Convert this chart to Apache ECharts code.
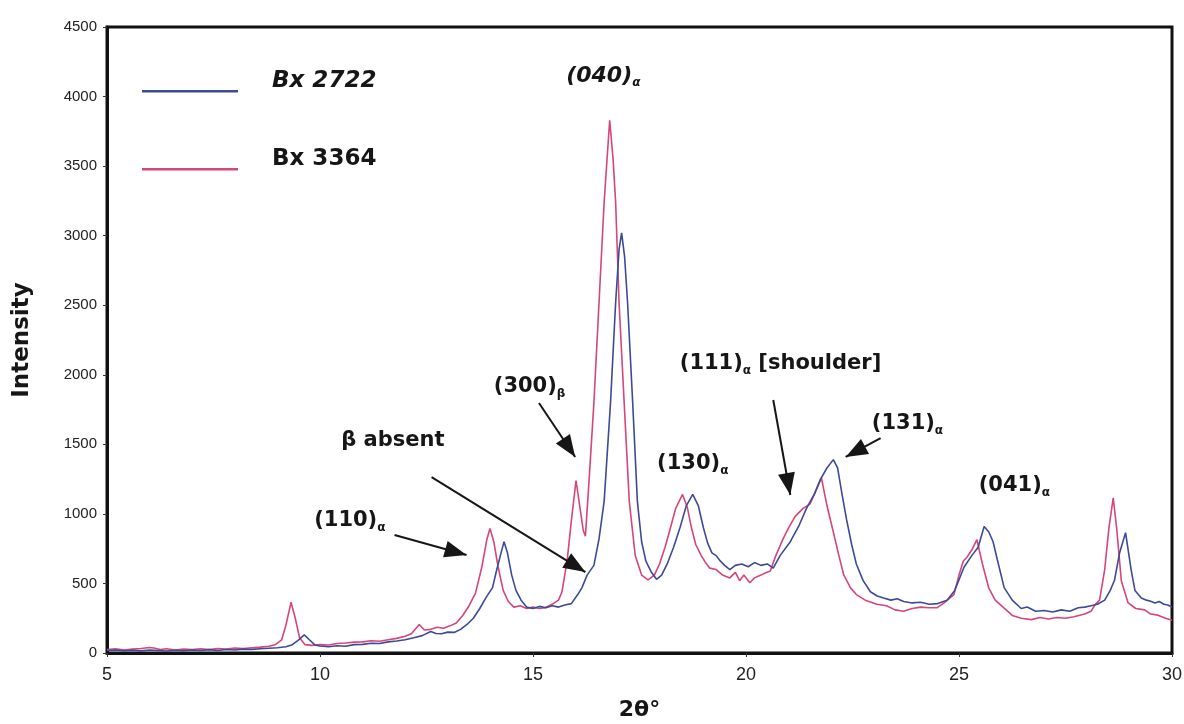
<!DOCTYPE html>
<html>
<head>
<meta charset="utf-8">
<script src="https://cdn.jsdelivr.net/npm/echarts@6/dist/echarts.min.js"></script>
<style>
  html, body { margin: 0; padding: 0; background: #fff; }
  #chart { width: 1184px; height: 724px; }
</style>
</head>
<body>
<div id="chart"></div>
<script>
// X-ray diffraction patterns of two polypropylene samples, intensity vs 2θ.
const seriesNames = ['Bx 2722', 'Bx 3364'];

// [2θ (degrees), intensity]
const bx2722 = [
  [5.0, 18], [5.2, 22], [5.4, 16], [5.6, 20], [5.8, 15], [6.0, 22], [6.2, 18], [6.4, 14], [6.6, 20],
  [6.8, 16], [7.0, 22], [7.2, 18], [7.4, 24], [7.6, 18], [7.8, 25], [8.0, 22], [8.2, 28], [8.4, 26],
  [8.6, 30], [8.8, 34], [9.0, 38], [9.2, 45], [9.35, 60], [9.5, 95], [9.63, 130], [9.75, 95],
  [9.88, 58], [10.0, 50], [10.2, 45], [10.4, 52], [10.6, 48], [10.8, 60], [11.0, 62], [11.2, 70],
  [11.4, 68], [11.6, 80], [11.8, 86], [12.0, 95], [12.2, 110], [12.4, 125], [12.6, 155], [12.72, 140],
  [12.85, 138], [13.0, 150], [13.15, 148], [13.3, 170], [13.45, 205], [13.6, 250], [13.75, 320],
  [13.9, 400], [14.05, 470], [14.15, 600], [14.25, 720], [14.32, 800], [14.4, 720], [14.5, 560],
  [14.6, 450], [14.72, 380], [14.85, 330], [15.0, 320], [15.15, 335], [15.3, 325], [15.45, 340],
  [15.6, 330], [15.75, 345], [15.9, 355], [16.05, 420], [16.15, 470], [16.27, 560], [16.43, 630],
  [16.55, 820], [16.67, 1090], [16.82, 1800], [16.94, 2520], [17.02, 2900], [17.08, 3020],
  [17.15, 2850], [17.22, 2520], [17.34, 1800], [17.45, 1090], [17.55, 800], [17.65, 660],
  [17.78, 580], [17.9, 530], [18.02, 560], [18.15, 640], [18.3, 760], [18.45, 900], [18.6, 1060],
  [18.75, 1140], [18.88, 1060], [19.0, 900], [19.1, 790], [19.2, 720], [19.3, 700], [19.4, 660],
  [19.5, 630], [19.62, 600], [19.75, 630], [19.9, 640], [20.05, 620], [20.2, 650], [20.35, 630],
  [20.5, 640], [20.64, 610], [20.8, 700], [21.04, 800], [21.25, 920], [21.42, 1040], [21.6, 1140],
  [21.75, 1250], [21.9, 1330], [22.05, 1390], [22.15, 1330], [22.25, 1150], [22.36, 960],
  [22.48, 780], [22.59, 640], [22.75, 520], [22.92, 440], [23.08, 410], [23.23, 395], [23.4, 380],
  [23.55, 390], [23.7, 370], [23.9, 360], [24.1, 365], [24.3, 350], [24.5, 355], [24.72, 380],
  [24.9, 450], [25.12, 618], [25.3, 700], [25.45, 760], [25.59, 910], [25.7, 870], [25.8, 800],
  [25.9, 670], [26.06, 470], [26.25, 380], [26.46, 320], [26.6, 330], [26.8, 300], [27.0, 305],
  [27.2, 295], [27.4, 310], [27.6, 300], [27.8, 325], [27.95, 330], [28.1, 340], [28.25, 350],
  [28.42, 380], [28.55, 450], [28.65, 523], [28.77, 720], [28.91, 865], [29.04, 600], [29.13, 450],
  [29.28, 395], [29.4, 380], [29.5, 372], [29.6, 360], [29.7, 370], [29.81, 350], [29.9, 345],
  [30.0, 330]
];

const bx3364 = [
  [5.0, 25], [5.2, 30], [5.4, 22], [5.6, 28], [5.8, 32], [6.0, 40], [6.1, 36], [6.25, 25], [6.4, 30],
  [6.6, 22], [6.8, 28], [7.0, 25], [7.2, 30], [7.4, 24], [7.6, 32], [7.8, 28], [8.0, 35], [8.2, 32],
  [8.4, 38], [8.6, 42], [8.8, 48], [8.95, 60], [9.1, 95], [9.2, 200], [9.32, 365], [9.42, 250],
  [9.52, 110], [9.65, 60], [9.8, 55], [10.0, 60], [10.2, 58], [10.4, 68], [10.6, 72], [10.8, 78],
  [11.0, 80], [11.2, 88], [11.4, 85], [11.6, 95], [11.8, 105], [12.0, 120], [12.15, 140],
  [12.33, 205], [12.45, 165], [12.6, 170], [12.75, 185], [12.9, 178], [13.05, 195], [13.2, 215],
  [13.35, 270], [13.5, 340], [13.65, 430], [13.8, 620], [13.92, 820], [13.99, 895], [14.08, 800],
  [14.18, 620], [14.3, 450], [14.42, 370], [14.55, 330], [14.7, 340], [14.85, 320], [15.0, 330],
  [15.15, 320], [15.28, 325], [15.45, 350], [15.6, 380], [15.68, 440], [15.8, 660], [15.9, 950],
  [16.01, 1240], [16.1, 1050], [16.18, 880], [16.23, 840], [16.31, 1210], [16.43, 1800],
  [16.55, 2520], [16.67, 3240], [16.8, 3830], [16.88, 3550], [16.94, 3240], [17.02, 2520],
  [17.14, 1800], [17.26, 1090], [17.4, 700], [17.55, 560], [17.7, 525], [17.85, 560], [17.97, 640],
  [18.1, 760], [18.2, 870], [18.35, 1040], [18.51, 1140], [18.62, 1050], [18.72, 900], [18.82, 780],
  [18.95, 700], [19.05, 650], [19.15, 610], [19.3, 600], [19.45, 560], [19.62, 540], [19.75, 580],
  [19.85, 520], [19.95, 560], [20.09, 505], [20.2, 540], [20.35, 560], [20.45, 575], [20.57, 590],
  [20.7, 700], [20.87, 820], [21.0, 900], [21.15, 980], [21.34, 1040], [21.5, 1070], [21.62, 1150],
  [21.77, 1260], [21.9, 1060], [22.05, 870], [22.18, 700], [22.29, 566], [22.45, 470], [22.59, 420],
  [22.8, 380], [23.07, 350], [23.3, 340], [23.5, 310], [23.7, 300], [23.9, 320], [24.1, 330],
  [24.3, 325], [24.48, 325], [24.65, 360], [24.88, 420], [25.0, 560], [25.1, 660], [25.19, 690],
  [25.3, 740], [25.42, 815], [25.55, 640], [25.7, 466], [25.85, 380], [26.06, 322], [26.25, 270],
  [26.46, 250], [26.7, 240], [26.9, 255], [27.1, 245], [27.3, 255], [27.5, 250], [27.7, 260],
  [27.95, 280], [28.1, 300], [28.2, 350], [28.3, 380], [28.42, 600], [28.52, 900], [28.62, 1115],
  [28.7, 900], [28.81, 520], [28.97, 360], [29.15, 320], [29.36, 310], [29.5, 280], [29.67, 272],
  [29.85, 250], [30.0, 236]
];

// Axis ranges and ticks
const xTicks = [5, 10, 15, 20, 25, 30];
const yTicks = [0, 500, 1000, 1500, 2000, 2500, 3000, 3500, 4000, 4500];

// Reflection labels: main text, subscript, trailing text
const peakLabels = [
  ['(040)', 'α', ''],
  ['(300)', 'β', ''],
  ['β absent', '', ''],
  ['(110)', 'α', ''],
  ['(130)', 'α', ''],
  ['(111)', 'α', ' [shoulder]'],
  ['(131)', 'α', ''],
  ['(041)', 'α', '']
];

// Where each label sits, in (2θ, intensity) units
const labelAnchors = [
  [16.65, 4140], [14.92, 1905], [11.71, 1524], [10.70, 942],
  [18.75, 1351], [20.81, 2070], [23.79, 1639], [26.30, 1193]
];

// Pointer arrows: [tail, head] in (2θ, intensity) units
const arrows = [
  [[15.14, 1797], [15.99, 1409]],
  [[12.62, 1265], [16.23, 582]],
  [[11.75, 848], [13.44, 704]],
  [[20.64, 1819], [21.04, 1136]],
  [[23.16, 1545], [22.34, 1409]]
];

const INK = '#161616';
const BLUE = '#3c4a98';
const PINK = '#d6457b';
const BOLD_FONT = 'DejaVu Sans';

// main text sits at the top of the line box, the small subscript at its bottom
const rich = {
  m:  { fontFamily: BOLD_FONT, fontWeight: 'bold', fontSize: 21, color: INK, lineHeight: 22, verticalAlign: 'top' },
  s:  { fontFamily: BOLD_FONT, fontWeight: 'bold', fontSize: 12, color: INK, lineHeight: 24, verticalAlign: 'bottom' },
  mi: { fontFamily: BOLD_FONT, fontWeight: 'bold', fontStyle: 'italic', fontSize: 22, color: INK, lineHeight: 22, verticalAlign: 'top' },
  si: { fontFamily: BOLD_FONT, fontWeight: 'bold', fontStyle: 'italic', fontSize: 12, color: INK, lineHeight: 24, verticalAlign: 'bottom' }
};

const labelPoints = peakLabels.map((p, i) => {
  const italic = i === 0;
  const m = italic ? 'mi' : 'm';
  const s = italic ? 'si' : 's';
  let txt = '{' + m + '|' + p[0] + '}';
  if (p[1]) txt += '{' + s + '|' + p[1] + '}';
  if (p[2]) txt += '{' + m + '|' + p[2] + '}';
  return { coord: labelAnchors[i], rt: txt };
});

const arrowLines = arrows.map(a => [
  { coord: a[0], symbol: 'none' },
  { coord: a[1], symbol: 'triangle', symbolSize: [17, 22], symbolOffset: [0, 11] }
]);

// legend swatch: a thin bar at the bottom of a 96x22 box (top point only widens the box)
const legendIcon = 'path://M0,0L0,0.01M0,19.5L96,19.5L96,22L0,22Z';

const chart = echarts.init(document.getElementById('chart'), null, { renderer: 'canvas' });

chart.setOption({
  backgroundColor: '#fff',
  animation: false,
  grid: {
    left: 107, right: 12, top: 27, bottom: 71,
    outerBoundsMode: 'none',
    show: true, borderColor: '#111', borderWidth: 3, backgroundColor: 'transparent'
  },
  legend: {
    left: 137, top: 65, orient: 'vertical',
    icon: legendIcon,
    itemWidth: 96, itemHeight: 22, itemGap: 55,
    selectedMode: false,
    data: [
      { name: seriesNames[0], textStyle: { fontStyle: 'italic' } },
      { name: seriesNames[1] }
    ],
    textStyle: {
      fontFamily: BOLD_FONT, fontWeight: 'bold', fontSize: 23, color: INK,
      padding: [0, 0, 0, 29]
    }
  },
  xAxis: {
    type: 'value',
    min: xTicks[0], max: xTicks[xTicks.length - 1], interval: 5,
    name: '2θ°', nameLocation: 'middle', nameGap: 46,
    nameTextStyle: { fontFamily: BOLD_FONT, fontWeight: 'bold', fontSize: 22, color: INK },
    axisLine: { show: true, lineStyle: { color: '#111', width: 3 } },
    axisTick: { show: true, length: 4, lineStyle: { color: '#333', width: 1 } },
    axisLabel: {
      margin: 13, color: '#222', fontSize: 18,
      fontFamily: "'Liberation Sans Narrow', 'Liberation Sans', Arial, sans-serif"
    },
    splitLine: { show: false }
  },
  yAxis: {
    type: 'value',
    min: yTicks[0], max: yTicks[yTicks.length - 1], interval: 500,
    name: 'Intensity', nameLocation: 'middle', nameGap: 73, nameRotate: 90,
    nameTextStyle: { fontFamily: BOLD_FONT, fontWeight: 'bold', fontSize: 23, color: INK },
    axisLine: { show: true, lineStyle: { color: '#111', width: 3 } },
    axisTick: { show: true, length: 4, lineStyle: { color: '#333', width: 1 } },
    axisLabel: {
      margin: 10, color: '#222', fontSize: 15,
      fontFamily: "'Liberation Sans', Arial, sans-serif",
      formatter: v => String(v)
    },
    splitLine: { show: false }
  },
  series: [
    {
      name: seriesNames[0], type: 'line', data: bx2722,
      symbol: 'none', smooth: false, z: 3,
      lineStyle: { color: BLUE, width: 1.6 }, itemStyle: { color: BLUE }
    },
    {
      name: seriesNames[1], type: 'line', data: bx3364,
      symbol: 'none', smooth: false, z: 2,
      lineStyle: { color: PINK, width: 1.6 }, itemStyle: { color: PINK },
      markPoint: {
        silent: true, symbol: 'circle', symbolSize: 1,
        itemStyle: { color: 'rgba(0,0,0,0)' },
        label: { show: true, position: 'inside', formatter: p => p.data.rt, rich: rich },
        data: labelPoints,
        z: 10
      },
      markLine: {
        silent: true, symbol: ['none', 'triangle'],
        label: { show: false },
        lineStyle: { color: INK, width: 2, type: 'solid' },
        itemStyle: { color: INK },
        emphasis: { disabled: true },
        data: arrowLines,
        z: 10
      }
    }
  ]
});
</script>
</body>
</html>
